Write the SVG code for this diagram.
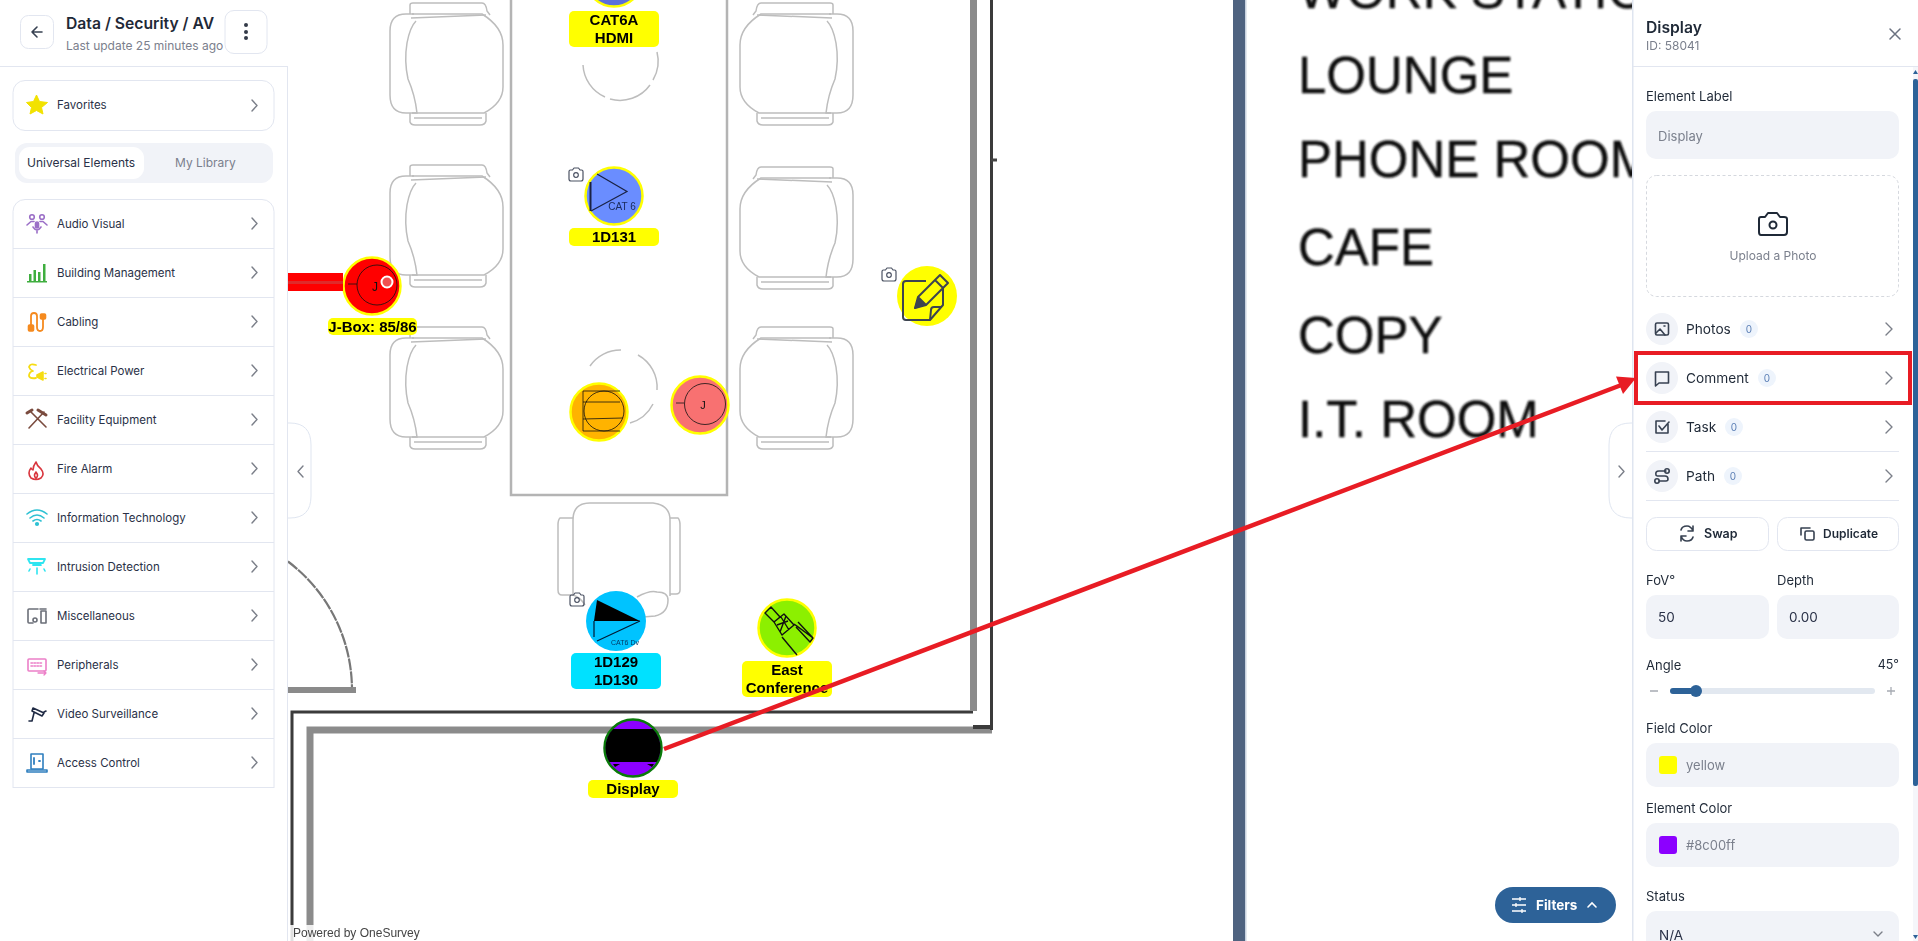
<svg xmlns="http://www.w3.org/2000/svg" width="1918" height="941" viewBox="0 0 1918 941">
<style>
text{font-family:Inter,"Liberation Sans",sans-serif}
.m{font-size:11.500px;fill:#2a3147}
.t{font-size:12px;fill:#2a3147}
.lb{font-size:13px;fill:#1f2937}
.rw{font-size:13.700px;fill:#1f2937}
.gr{font-size:13px;fill:#7b808d}
.bd{font-size:10px;fill:#5b7fb5;text-anchor:middle}
.nl{font-family:"Liberation Sans",Arial,sans-serif;font-weight:700;font-size:15px;fill:#000;text-anchor:middle}
.pl{font-family:"Liberation Sans",Arial,sans-serif;font-size:51px;fill:#111;stroke:#111;stroke-width:.4}
.chev{fill:none;stroke:#7b7f89;stroke-width:1.4;stroke-linecap:round;stroke-linejoin:round}
.ch{fill:none;stroke:#bdbdbd;stroke-width:1.500}
.inp{fill:#f1f3f8}
.card{fill:#fff;stroke:#e2e6f0;stroke-width:1}
.sep{stroke:#e2e6f0;stroke-width:1}
.dk{fill:none;stroke:#374151;stroke-width:1.600;stroke-linecap:round;stroke-linejoin:round}
.cam{fill:none;stroke:#4b5263;stroke-width:1.200;stroke-linejoin:round}
.ic{fill:none;stroke-width:1.600;stroke-linecap:round;stroke-linejoin:round}
.ln{fill:none;stroke:#111;stroke-width:.8}
.sm{font-family:"Liberation Sans",sans-serif;text-anchor:middle;fill:#111}
</style>
<defs>
<filter id="blur" x="-5%" y="-5%" width="110%" height="110%"><feGaussianBlur stdDeviation="1"/></filter>
<filter id="blur2" x="-2%" y="-2%" width="104%" height="104%"><feGaussianBlur stdDeviation="0.7"/></filter>
<clipPath id="dispclip"><circle cx="633" cy="748" r="27.500"/></clipPath>
<g id="chair">
<path class="ch" d="M24 11H16Q0 11 0 28V92Q0 110 16 110H27Q25 92 18 76Q14 58 17 40Q20 24 26 18"/>
<path class="ch" d="M22 11H92Q113 24 113 42V84Q113 100 94 110H22"/>
<path class="ch" d="M20 11V2Q20 0 23 0H92Q96 0 97 8L100 12M21 15L96 12"/>
<path class="ch" d="M20 110V119Q21 122 25 122H90Q95 122 96 118V110M24 115H92"/>
</g>
<g id="cam"><path class="cam" d="M-7 -3.500Q-7 -5 -5.500 -5H-3.500L-2 -7H2.500L4 -5H5.500Q7 -5 7 -3.500V4Q7 6 5 6H-5Q-7 6 -7 4Z"/><circle class="cam" cx="0" cy="0" r="2.300"/></g>
</defs>
<rect width="1918" height="941" fill="#fff"/>

<g id="plan">
<g filter="url(#blur2)">
<use href="#chair" x="390" y="3"/><use href="#chair" x="390" y="165"/><use href="#chair" x="390" y="327"/>
<use href="#chair" transform="translate(853,3) scale(-1,1)"/><use href="#chair" transform="translate(853,167) scale(-1,1)"/><use href="#chair" transform="translate(853,327) scale(-1,1)"/>
<path d="M511 0V495H727V0" fill="none" stroke="#b4b4b4" stroke-width="2.500"/>
<path class="ch" d="M583 65A37 37 0 0 0 605 97M610 99A37 37 0 0 0 650 85M653 80A37 37 0 0 0 657 52"/>
<path class="ch" d="M590 366A37 37 0 0 1 621 350M638 355A37 37 0 0 1 657 390M653 404A37 37 0 0 1 630 423"/>
<path class="ch" d="M573 520Q573 503 590 503H653Q670 505 670 520V596M573 520V596M573 518H560Q558 520 558 525V590Q558 595 562 595H573M670 518H678Q680 520 680 525V590Q680 594 676 594H670M573 595Q580 597 585 605M637 597Q650 590 657 592Q668 592 668 600Q668 613 655 616L643 617"/>
<path d="M288 561.500A161 161 0 0 1 352 690" fill="none" stroke="#777" stroke-width="2.200" stroke-dasharray="12 1"/>
<path d="M288 690H356" stroke="#8a8a8a" stroke-width="6"/>
<path d="M310 941V730H992" fill="none" stroke="#8b8b8b" stroke-width="7"/>
<path d="M292 941V712H973" fill="none" stroke="#3a3a3a" stroke-width="3"/>
<path d="M973.500 0V711" stroke="#8b8b8b" stroke-width="7"/>
<path d="M991.500 0V730" stroke="#3a3a3a" stroke-width="3"/>
<path d="M973 727H992" stroke="#3a3a3a" stroke-width="4"/>
<path d="M991 160H997" stroke="#444" stroke-width="3"/>
</g>
<rect x="1233" y="0" width="12" height="941" fill="#4f6380"/>
<rect x="1245" y="0" width="1.500" height="941" fill="#c9d3e0"/>
<g filter="url(#blur)">
<text class="pl" x="1298" y="8">WORK STATION</text>
<text class="pl" x="1298" y="93">LOUNGE</text>
<text class="pl" x="1298" y="177">PHONE ROOM</text>
<text class="pl" x="1298" y="265">CAFE</text>
<text class="pl" x="1298" y="353">COPY</text>
<text class="pl" x="1298" y="437">I.T. ROOM</text>
</g>
</g>

<g id="left-panel">
<rect x="0" y="0" width="288" height="941" fill="#fff"/>
<path d="M0 66.500H287.500M287.500 66V941" class="sep"/>
<rect class="card" x="20.500" y="15.500" width="33" height="33" rx="8"/>
<path class="dk" d="M42 32H32M37 27L32 32L37 37" stroke-width="1.500"/>
<text x="66" y="29" font-size="15.700" font-weight="600" fill="#1f2937">Data / Security / AV</text>
<text x="66" y="50" font-size="12" fill="#7b808d">Last update 25 minutes ago</text>
<rect class="card" x="225" y="10.500" width="42" height="43" rx="9"/>
<circle cx="246" cy="25" r="2" fill="#333a48"/><circle cx="246" cy="32" r="2" fill="#333a48"/><circle cx="246" cy="38" r="2" fill="#333a48"/>
<rect class="card" x="13" y="80.500" width="261" height="50" rx="12"/>
<path d="M36.500 95L39.500 101.500L47.500 102.500L41.500 107.500L43 114L36.500 110.500L30 114L31.500 107.500L26.500 102.500L33.500 101.500Z" fill="#f2e200" stroke="#f2e200" stroke-linejoin="round"/>
<text class="m" x="57" y="109">Favorites</text>
<path class="chev" d="M252 100L257 105.500L252 111"/>
<rect x="15" y="143" width="258" height="40" rx="12" fill="#f1f3f8"/>
<rect x="19" y="147" width="125" height="32" rx="11" fill="#fff"/>
<text class="t" x="27" y="167">Universal Elements</text>
<text x="175" y="167" font-size="12" fill="#7b808d">My Library</text>
<rect class="card" x="13" y="199.500" width="261" height="620" rx="12"/>
<rect x="12" y="788" width="264" height="40" fill="#fff"/>
<path class="sep" d="M13 248.500H274M13 297.500H274M13 346.500H274M13 395.500H274M13 444.500H274M13 493.500H274M13 542.500H274M13 591.500H274M13 640.500H274M13 689.500H274M13 738.500H274M13 787.500H274"/>
<text class="m" x="57" y="227.500">Audio Visual</text>
<text class="m" x="57" y="276.500">Building Management</text>
<text class="m" x="57" y="325.500">Cabling</text>
<text class="m" x="57" y="374.500">Electrical Power</text>
<text class="m" x="57" y="423.500">Facility Equipment</text>
<text class="m" x="57" y="472.500">Fire Alarm</text>
<text class="m" x="57" y="521.500">Information Technology</text>
<text class="m" x="57" y="570.500">Intrusion Detection</text>
<text class="m" x="57" y="619.500">Miscellaneous</text>
<text class="m" x="57" y="668.500">Peripherals</text>
<text class="m" x="57" y="717.500">Video Surveillance</text>
<text class="m" x="57" y="766.500">Access Control</text>
<path class="chev" d="M252 218L257 223.500L252 229M252 267L257 272.500L252 278M252 316L257 321.500L252 327M252 365L257 370.500L252 376M252 414L257 419.500L252 425M252 463L257 468.500L252 474M252 512L257 517.500L252 523M252 561L257 566.500L252 572M252 610L257 615.500L252 621M252 659L257 664.500L252 670M252 708L257 713.500L252 719M252 757L257 762.500L252 768"/>
<g class="ic" stroke="#9b6fc7"><circle cx="32" cy="217" r="2.300"/><circle cx="42" cy="217" r="2.300"/><path d="M27 225L31 221.500H34M47 225L43 221.500H40M33 227Q37 233 41 227M37 230V233"/><rect x="35.500" y="222" width="3" height="6" rx="1.500" fill="#9b6fc7"/></g>
<g fill="#3fae3f"><rect x="29" y="274" width="2.500" height="7"/><rect x="33.500" y="270" width="2.500" height="11"/><rect x="38" y="272" width="2.500" height="9"/><rect x="43" y="264" width="2.500" height="17"/><rect x="27" y="281" width="20" height="1.500"/></g>
<g class="ic" stroke="#f58a1f"><path d="M31 325V316Q31 313 34 313Q37 313 37 316V327Q37 331 40 331Q43 331 43 327V318" stroke-width="1.800"/><rect x="28.500" y="325" width="5" height="6" rx="1" fill="#f58a1f"/><rect x="40.500" y="314" width="5" height="5" rx="1" fill="#f58a1f"/></g>
<g class="ic" stroke="#f6dc12"><path d="M36 365Q30 363 29 367Q30 370 33 371Q29 372 29 376Q30 379 36 378" stroke-width="1.800"/><path d="M37 375L43 372V380L37 377Z" fill="#f6dc12"/><path d="M45 373.500H46M45 378.500H46"/></g>
<g class="ic" stroke="#7a4b3e" stroke-width="2.200"><path d="M29 428L44 412M31 412L46 427"/><path d="M27 413L32 410M38 410L46 415" stroke-width="3"/></g>
<path class="ic" stroke="#d9363e" d="M36 462Q37 466 41 469Q45 474 41 478Q36 481 31 478Q27 473 31 468Q32 470 33 470Q33 466 36 462ZM36 472Q33 476 36 478Q39 476 36 472Z"/>
<g class="ic" stroke="#2fc1d3" stroke-width="1.800"><path d="M27 514Q37 506 47 514M30 518Q37 512 44 518M33 521Q37 518 41 521"/><circle cx="37" cy="524" r="1.300" fill="#2fc1d3"/></g>
<g class="ic" stroke="#2fe5f0"><path d="M28 559H45L43 563H30ZM33 565H41L37 564" stroke-width="1.800"/><path d="M37 568V574M30 569L29 571M44 569L45 571"/></g>
<g class="ic" stroke="#6b6f78"><path d="M38 609H29Q28 609 28 610V622Q28 623 29 623H33"/><circle cx="35" cy="620" r="2"/><rect x="41" y="611" width="5" height="12"/><path d="M40 609H46"/></g>
<g class="ic" stroke="#ec7fc8"><rect x="28" y="659" width="18" height="12" rx="1"/><path d="M31 663H43M31 666H43" stroke-dasharray="1.500 1.500"/><path d="M38 673H46M44 671L46 673L44 675" stroke-width="1.300"/></g>
<g class="ic" stroke="#1f2a44"><path d="M33 708L44 713L42 716L32 711ZM34 713L32 721H29M44 712L46 711"/></g>
<g class="ic" stroke="#2f7fbf"><rect x="31" y="754" width="12" height="15"/><path d="M27 770H47V772H27Z"/><path d="M34 758V764M39 761H40" stroke-width="1.800"/></g>
</g>

<g id="panel-tabs">
<path d="M288 423H290Q311 423 311 445V496Q311 518 290 518H288" fill="#fff" stroke="#dfe5f0"/>
<path class="chev" d="M303 466L298 471.500L303 477"/>
<path d="M1633 423H1631Q1609 423 1609 445V496Q1609 518 1631 518H1633" fill="#fff" stroke="#dfe5f0"/>
<path class="chev" d="M1619 466L1624 471.500L1619 477"/>
</g>

<g id="powered"><rect x="288" y="925" width="130" height="16" fill="#fff" opacity=".85"/>
<text x="293" y="937" font-size="12" fill="#444" style="font-family:'Liberation Sans',sans-serif">Powered by OneSurvey</text></g>

<g id="filters-button">
<rect x="1495" y="887" width="121" height="36" rx="18" fill="#2d6298"/>
<path d="M1512 899H1526M1512 905H1526M1512 911H1526M1520 897V901M1516 903V907M1522 909V913" stroke="#fff" stroke-width="1.300" fill="none"/>
<text x="1536" y="910" font-size="13.500" font-weight="700" fill="#fff">Filters</text>
<path d="M1588 907L1592 903L1596 907" fill="none" stroke="#fff" stroke-width="1.600" stroke-linecap="round"/>
</g>

<g id="right-panel">
<rect x="1633" y="0" width="285" height="941" fill="#fff"/>
<rect x="1632" y="0" width="1.500" height="941" fill="#dfe5f0"/>
<path class="sep" d="M1633 66.500H1918"/>
<text x="1646" y="33" font-size="15.700" font-weight="600" fill="#1f2937">Display</text>
<text x="1646" y="50" font-size="12" fill="#7b808d">ID: 58041</text>
<path d="M1890 29L1900 39M1900 29L1890 39" stroke="#6b7280" stroke-width="1.500" stroke-linecap="round"/>
<text class="lb" x="1646" y="101">Element Label</text>
<rect class="inp" x="1646" y="111" width="253" height="48" rx="10"/>
<text class="gr" x="1658" y="141">Display</text>
<rect x="1646.500" y="175.500" width="252" height="121" rx="10" fill="#fff" stroke="#d5d8de" stroke-dasharray="3 2.500"/>
<path d="M1759 219Q1759 217 1761 217H1765L1768 213H1777L1780 217H1784Q1787 217 1787 219V232Q1787 235 1784 235H1761Q1759 235 1759 232Z" fill="none" stroke="#1f2937" stroke-width="2" stroke-linejoin="round"/>
<circle cx="1773" cy="225" r="3.500" fill="none" stroke="#1f2937" stroke-width="2"/>
<text x="1773" y="260" font-size="12" fill="#7b808d" text-anchor="middle">Upload a Photo</text>

<circle cx="1662" cy="329" r="16" fill="#f1f3f8"/><circle cx="1662" cy="378" r="16" fill="#f1f3f8"/><circle cx="1662" cy="427" r="16" fill="#f1f3f8"/><circle cx="1662" cy="476" r="16" fill="#f1f3f8"/>
<rect class="dk" x="1655.500" y="323" width="13" height="12" rx="1.500"/><path class="dk" d="M1656 333L1660 329L1665 335M1664 326H1665" stroke-width="1.300"/>
<path class="dk" d="M1655.500 372H1668.500V383H1659L1655.500 386Z"/>
<path class="dk" d="M1668 424V433H1656V421H1665M1659 426L1662 430L1669 422"/>
<path class="dk" d="M1659 471H1666M1659 481H1666M1659 471Q1655 471 1656 475Q1656 476 1659 476H1665Q1668 476 1668 479Q1668 481 1666 481" stroke-width="1.400"/><circle class="dk" cx="1667" cy="471" r="2.200"/><circle class="dk" cx="1657" cy="481" r="2.200"/>
<text class="rw" x="1686" y="334">Photos</text>
<text class="rw" x="1686" y="383">Comment</text>
<text class="rw" x="1686" y="432">Task</text>
<text class="rw" x="1686" y="481">Path</text>
<circle cx="1749" cy="329" r="9" fill="#eef4fc"/><circle cx="1767" cy="378" r="9" fill="#eef4fc"/><circle cx="1734" cy="427" r="9" fill="#eef4fc"/><circle cx="1733" cy="476" r="9" fill="#eef4fc"/>
<text class="bd" x="1749" y="333">0</text><text class="bd" x="1767" y="382">0</text><text class="bd" x="1734" y="431">0</text><text class="bd" x="1733" y="480">0</text>
<path class="chev" d="M1886 323L1892 329L1886 335M1886 372L1892 378L1886 384M1886 421L1892 427L1886 433M1886 470L1892 476L1886 482"/>
<path class="sep" d="M1646 451.500H1899M1646 500.500H1899"/>
<rect x="1636" y="353" width="274" height="50" fill="none" stroke="#e81c24" stroke-width="4"/>
<rect class="card" x="1646.500" y="517.500" width="122" height="33" rx="10"/><rect class="card" x="1777.500" y="517.500" width="121" height="33" rx="10"/>
<path class="dk" d="M1693 531Q1691 526 1687 526Q1682 526 1681 530M1693 526V531H1688M1681 536Q1683 541 1687 541Q1692 541 1693 537M1681 541V536H1686" stroke-width="1.400"/>
<text x="1704" y="538" font-size="12.500" font-weight="600" fill="#1f2937">Swap</text>
<rect class="dk" x="1805" y="531" width="9" height="9" rx="1.500" stroke-width="1.400"/><path class="dk" d="M1801 535V528H1810" stroke-width="1.400"/>
<text x="1823" y="538" font-size="12" font-weight="600" fill="#1f2937">Duplicate</text>
<text class="lb" x="1646" y="585">FoV°</text><text class="lb" x="1777" y="585">Depth</text>
<rect class="inp" x="1646" y="595" width="123" height="44" rx="10"/><rect class="inp" x="1777" y="595" width="122" height="44" rx="10"/>
<text x="1658" y="622" font-size="13.500" fill="#2a3147">50</text><text x="1789" y="622" font-size="13.500" fill="#2a3147">0.00</text>
<text class="lb" x="1646" y="670">Angle</text>
<text class="lb" x="1899" y="669" text-anchor="end" style="font-size:12.500px">45°</text>
<path d="M1650 691H1658M1887 691H1895M1891 687V695" stroke="#a7abb3" stroke-width="1.300"/>
<rect x="1670" y="688" width="205" height="6" rx="3" fill="#e2e8f0"/>
<rect x="1670" y="688" width="26" height="6" rx="3" fill="#2d6298"/><circle cx="1696" cy="691" r="6" fill="#2d6298"/>
<text class="lb" x="1646" y="733">Field Color</text>
<rect class="inp" x="1646" y="743" width="253" height="44" rx="10"/>
<rect x="1659" y="756" width="18" height="18" rx="3" fill="#ffff00"/>
<text class="gr" x="1686" y="770">yellow</text>
<text class="lb" x="1646" y="813">Element Color</text>
<rect class="inp" x="1646" y="823" width="253" height="44" rx="10"/>
<rect x="1659" y="836" width="18" height="18" rx="3" fill="#8c00ff"/>
<text class="gr" x="1686" y="850">#8c00ff</text>
<text class="lb" x="1646" y="901">Status</text>
<rect class="inp" x="1646" y="911" width="253" height="50" rx="10"/>
<text x="1659" y="940" font-size="13.500" fill="#2a3147">N/A</text>
<path class="chev" d="M1874 932L1878 936L1882 932"/>
<rect x="1913" y="67" width="5" height="874" fill="#f5f6fa"/>
<rect x="1913" y="79" width="5" height="707" rx="2" fill="#2d6298"/>
<path d="M1913 74L1915.500 70L1918 74ZM1913 935L1915.500 939L1918 935Z" fill="#2d6298"/>
</g>

<g id="node-cat6a">
<circle cx="614" cy="-22" r="28.500" fill="#5b6fdc" stroke="#ffff00" stroke-width="2.500"/>
<rect x="569" y="11" width="90" height="36" rx="5" fill="#ffff00"/>
<text class="nl" x="614" y="25">CAT6A</text><text class="nl" x="614" y="43">HDMI</text>
</g>
<g id="node-1d131">
<circle cx="614" cy="196" r="28.500" fill="#6a8dff" stroke="#ffff00" stroke-width="2.500"/>
<path d="M597 174L627 191.500L591 211" fill="none" stroke="#1a2244" stroke-width="1.200"/>
<path d="M590.500 182V211" stroke="#1a2244" stroke-width="2"/>
<text class="sm" x="622" y="210" font-size="10" style="fill:#1a2a5a">CAT 6</text>
<use href="#cam" x="576" y="175"/>
<rect x="569" y="228" width="90" height="18" rx="5" fill="#ffff00"/>
<text class="nl" x="614" y="242">1D131</text>
</g>
<g id="node-jbox">
<circle cx="372" cy="286" r="28.500" fill="#ff0000" stroke="#ffff00" stroke-width="2.500"/>
<circle cx="377" cy="285" r="20" class="ln"/><path class="ln" d="M348 284H357"/>
<text class="sm" x="375" y="291" font-size="12">J</text>
<circle cx="387" cy="282" r="5.500" fill="#f05050" stroke="#fff" stroke-width="2"/>
<rect x="328" y="318" width="89" height="17" rx="5" fill="#ffff00"/>
<text class="nl" x="372.500" y="332">J-Box: 85/86</text>
</g>
<g id="node-orange">
<circle cx="599" cy="412" r="28.500" fill="#ffb300" stroke="#ffff00" stroke-width="2.500"/>
<circle cx="604" cy="411" r="20" class="ln"/>
<path class="ln" d="M620 391H583V431H620M583 402H620M583 419L623 418"/>
</g>
<g id="node-j">
<circle cx="700" cy="405" r="28.500" fill="#f87171" stroke="#ffff00" stroke-width="2.500"/>
<circle cx="705" cy="404" r="20.500" class="ln"/><path class="ln" d="M676 403H684"/>
<text class="sm" x="703" y="409" font-size="11">J</text>
</g>
<g id="node-note">
<circle cx="927" cy="296" r="30" fill="#ffff00"/>
<g fill="none" stroke="#3d4450" stroke-width="2" stroke-linejoin="round"><path d="M926 281H906Q903 281 903 284V317Q903 320 906 320H930L943 305V288"/><path d="M930 320L931 310Q931 307 934 307H942"/><path d="M915 308L918 297L940 275L948 283L926 305ZM918 297L926 305M935 280L943 288"/></g>
<path d="M914 309L918 297L926 305Z" fill="#3d4450"/>
<use href="#cam" x="889" y="275"/>
</g>
<g id="node-east">
<circle cx="787" cy="628" r="28.500" fill="#8cf000" stroke="#ffff00" stroke-width="2.500"/>
<g fill="none" stroke="#111" stroke-width="1.400" stroke-linejoin="round"><path d="M765 613L771 607L780 617L774 622ZM774 622L784 614L794 625L782 635ZM777 625L788 621M781 617L789 630M786 616L780 632M794 624L813 638L810 642L796 627M798 622L813 638M782 637L797 655"/></g>
<rect x="742" y="661" width="90" height="36" rx="5" fill="#ffff00"/>
<text class="nl" x="787" y="675">East</text><text class="nl" x="787" y="693">Conference</text>
</g>
<g id="node-1d129">
<circle cx="616" cy="621" r="30" fill="#00c3ff"/>
<path d="M597 600L640 621H594V621Z" fill="#000"/>
<path d="M594 621V637M597 641L640 621" stroke="#001a33" stroke-width="1.200" fill="none"/>
<text class="sm" x="625" y="645" font-size="7" style="fill:#003a66">CAT6 Dv</text>
<use href="#cam" x="577" y="600"/>
<rect x="571" y="653" width="90" height="36" rx="5" fill="#00e1ff"/>
<text class="nl" x="616" y="667">1D129</text><text class="nl" x="616" y="685">1D130</text>
</g>
<g id="node-display">
<circle cx="633" cy="748" r="28.500" fill="#8c00ff" stroke="#0a7a0a" stroke-width="2.500"/>
<g clip-path="url(#dispclip)"><path d="M605 729H661V756Q661 762 658 762H608Q605 762 605 756Z" fill="#000"/>
<path d="M613 764H620L615 767ZM647 764H654L652 767Z" fill="#000"/></g>
<rect x="588" y="780" width="90" height="18" rx="5" fill="#ffff00"/>
<text class="nl" x="633" y="794">Display</text>
</g>

<g id="connectors">
<rect x="288" y="273" width="55" height="18" fill="#ff0000"/>
<rect x="288" y="281" width="55" height="3" fill="#e02a2a"/>
<path d="M664 749L1624 384" stroke="#e81c24" stroke-width="4.500" fill="none"/>
<path d="M1636 378L1616 376.500L1623 394Z" fill="#e81c24"/>
</g>
</svg>
